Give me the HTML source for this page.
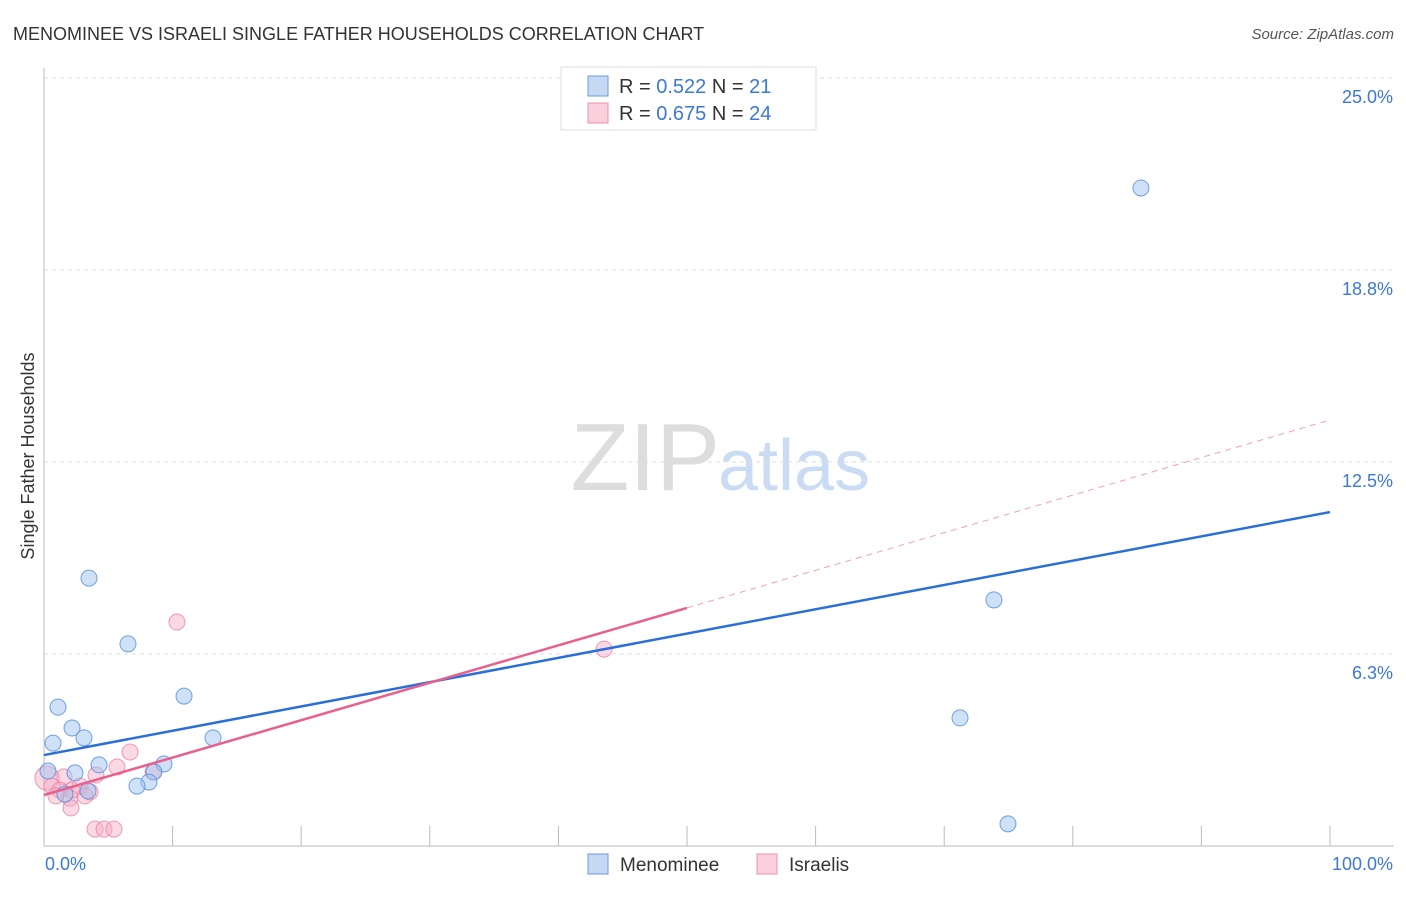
<!DOCTYPE html>
<html><head><meta charset="utf-8"><style>
body{margin:0;background:#fff;font-family:"Liberation Sans",sans-serif;}
svg text{font-family:"Liberation Sans",sans-serif;}
</style></head><body>
<svg width="1406" height="892">
<text x="13" y="40" font-size="18" fill="#333">MENOMINEE VS ISRAELI SINGLE FATHER HOUSEHOLDS CORRELATION CHART</text>
<text x="1394" y="39" font-size="15" fill="#555" text-anchor="end" font-style="italic">Source: ZipAtlas.com</text>
<text x="720" y="490" font-size="96" fill="#ddd" text-anchor="end" font-family="Liberation Serif">ZIP</text>
<text x="718" y="490" font-size="72" fill="#c9dcf3">atlas</text>
<g id="grid"></g><g id="axes"></g>
<text transform="translate(34,456) rotate(-90)" font-size="18" fill="#333" text-anchor="middle">Single Father Households</text>
<text x="45" y="870" font-size="18" fill="#3b78d8">0.0%</text>
<text x="1393" y="870" font-size="18" fill="#3b78d8" text-anchor="end">100.0%</text>
<g id="pts"></g><g id="lines"></g>
<g>
<rect x="561" y="67" width="255" height="63" fill="#fff" stroke="#ddd"/>
<rect x="588" y="76" width="20" height="20" fill="#c5d9f3" stroke="#6b9be0"/>
<rect x="588" y="103" width="20" height="20" fill="#fbd0dc" stroke="#ec90ac"/>
<text x="619" y="93" font-size="20" fill="#333">R = <tspan fill="#3b78d8">0.522</tspan>   N =  <tspan fill="#3b78d8">21</tspan></text>
<text x="619" y="120" font-size="20" fill="#333">R = <tspan fill="#3b78d8">0.675</tspan>   N = <tspan fill="#3b78d8">24</tspan></text>
</g>
<g>
<rect x="588" y="854" width="20" height="20" fill="#c5d9f3" stroke="#6b9be0"/>
<text x="620" y="871" font-size="19" fill="#333">Menominee</text>
<rect x="757" y="854" width="20" height="20" fill="#fbd0dc" stroke="#ec90ac"/>
<text x="789" y="871" font-size="19" fill="#333">Israelis</text>
</g>
</svg>
<script>
const yTicks=[25,18.75,12.5,6.25];
const yTickLabels=["25.0%","18.8%","12.5%","6.3%"];
const blueX=[3.5,6.53,1.09,10.89,2.18,3.11,13.14,0.70,9.33,4.28,8.55,2.41,8.16,7.23,0.31,3.42,1.63,85.3,73.87,71.23,74.96];
const blueY=[8.72,6.58,4.52,4.88,3.84,3.52,3.52,3.35,2.67,2.64,2.41,2.38,2.08,1.95,2.44,1.79,1.69,21.42,8.01,4.17,0.72];
const pinkX=[10.34,43.55,6.69,5.68,4.04,1.56,0.23,0.62,2.80,1.24,3.58,2.02,0.93,3.19,2.10,3.97,4.67,5.44,8.48,2.18];
const pinkY=[7.29,6.41,3.06,2.57,2.31,2.25,2.21,1.95,1.95,1.82,1.76,1.56,1.63,1.63,1.24,0.55,0.55,0.55,2.41,1.82];
const blueLine=[[0,2.96],[100,10.87]];
const pinkLine=[[0,1.66],[50,7.75]];
const pinkDash=[[50,7.75],[100,13.87]];
const X=v=>44+v*12.86, Y=v=>846-v*30.72;
const NS="http://www.w3.org/2000/svg";
function mk(t,a,p){const e=document.createElementNS(NS,t);for(const k in a)e.setAttribute(k,a[k]);document.getElementById(p).appendChild(e);return e;}
yTicks.forEach((t,i)=>{
 const l=mk('line',{x1:44,x2:1394,y1:Y(t),y2:Y(t),stroke:'#ddd','stroke-dasharray':'4,4'},'grid');
 
 
 const tx=mk('text',{x:1393,y:Y(t)+25,'font-size':18,fill:'#3b78d8','text-anchor':'end'},'grid');
 tx.textContent=yTickLabels[i];
 
 
});
let a=mk('line',{x1:44,x2:44,y1:68,y2:846,stroke:'#bbb'},'axes');


a=mk('line',{x1:44,x2:1394,y1:846,y2:846,stroke:'#bbb'},'axes');


for(let i=1;i<=10;i++){const t=mk('line',{x1:X(i*10),x2:X(i*10),y1:826,y2:846,stroke:'#bbb'},'axes');
 
 }
pinkX.forEach((x,i)=>{const c=mk('circle',{cx:X(x),cy:Y(pinkY[i]),r:i==6?12:8,fill:'rgba(246,170,195,0.45)',stroke:'rgba(236,130,165,0.8)'},'pts');
 
 });
blueX.forEach((x,i)=>{const c=mk('circle',{cx:X(x),cy:Y(blueY[i]),r:8,fill:'rgba(160,195,240,0.5)',stroke:'rgba(80,140,220,0.8)'},'pts');
 
 });
function ln(p,col,w,d,name){const l=mk('line',{x1:X(p[0][0]),y1:Y(p[0][1]),x2:X(p[1][0]),y2:Y(p[1][1]),stroke:col,'stroke-width':w},'lines');if(d)l.setAttribute('stroke-dasharray',d);
 
 }
ln(pinkDash,'#f0a0b8',1,'6,5','israelis-trend-extension');
ln(blueLine,'#2a6fd8',2.5,null,'menominee-trend-line');
ln(pinkLine,'#e8608c',2.5,null,'israelis-trend-line');
</script>
</body></html>
